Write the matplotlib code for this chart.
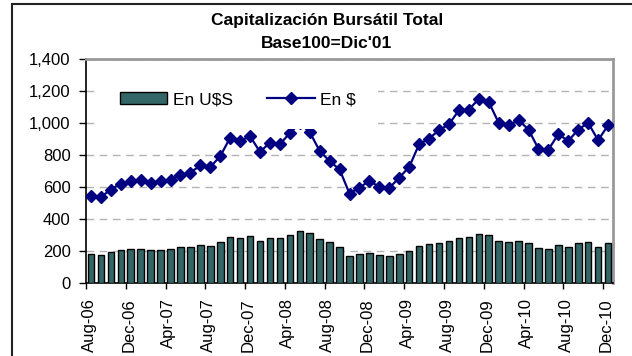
import numpy as np
import matplotlib
matplotlib.use("Agg")
import matplotlib.pyplot as plt
from matplotlib.patches import Rectangle
from matplotlib.ticker import FixedLocator, FuncFormatter

plt.rcParams['font.family'] = ['Liberation Sans', 'DejaVu Sans']

# monthly series, Aug-06 .. Dec-10
meses = ['Aug-06', 'Dec-06', 'Apr-07', 'Aug-07', 'Dec-07', 'Apr-08', 'Aug-08',
         'Dec-08', 'Apr-09', 'Aug-09', 'Dec-09', 'Apr-10', 'Aug-10', 'Dec-10']

en_usd = [180, 178, 194, 205, 211, 211, 207, 209, 213, 224, 228, 236, 232, 255,
          291, 284, 295, 263, 282, 280, 299, 324, 316, 276, 257, 226, 167, 180,
          190, 178, 167, 180, 199, 234, 245, 253, 261, 284, 286, 307, 303, 266,
          257, 263, 251, 217, 213, 240, 228, 249, 255, 228, 253]

en_pesos = [545, 539, 585, 623, 637, 644, 627, 637, 648, 675, 692, 736, 727, 794,
            911, 890, 919, 821, 880, 869, 940, 1000, 945, 827, 763, 711, 560, 598,
            639, 602, 595, 660, 727, 869, 905, 957, 994, 1082, 1086, 1153, 1134,
            1003, 988, 1020, 961, 840, 836, 932, 890, 961, 1003, 894, 988]

x = np.arange(len(en_usd))

fig = plt.figure(figsize=(6.32, 3.56), dpi=100)
ax = fig.add_axes([0.1361, 0.2051, 0.8339, 0.6278])

barras = ax.bar(x, en_usd, width=0.66, color='#336666', edgecolor='black',
                linewidth=1.0, zorder=3, label='En U$S')
linea, = ax.plot(x, en_pesos, color='#000080', lw=1.6, marker='D', ms=5.8,
                 mec='#000080', mew=1, zorder=4, label='En $')

ax.set_xlim(-0.5, len(x) - 0.5)
ax.set_ylim(0, 1400)
ax.set_yticks(range(0, 1401, 200))
ax.yaxis.set_major_formatter(FuncFormatter(lambda v, p: f'{int(v):,}'))
ax.grid(axis='y', color='#b4b4b4', lw=1.0, ls=(0, (5.5, 4)), zorder=0)

# tick marks between groups of four months, labels on the month itself
ax.xaxis.set_major_locator(FixedLocator(np.arange(-0.5, len(x) - 1, 4)))
ax.xaxis.set_major_formatter(FuncFormatter(lambda v, p: ''))
ax.xaxis.set_minor_locator(FixedLocator(np.arange(0, len(x), 4) - 0.2))
ax.set_xticklabels(meses, minor=True, rotation=90, fontsize=12)
ax.tick_params(axis='x', which='minor', length=0, pad=11)
ax.tick_params(axis='x', which='major', length=4, width=1, direction='out')
ax.tick_params(axis='y', length=5, width=1, direction='out', pad=6, labelsize=12)

for s in ['left', 'bottom']:
    ax.spines[s].set_color('black')
    ax.spines[s].set_linewidth(1.2)
for s in ['top', 'right']:
    ax.spines[s].set_color('#999999')
    ax.spines[s].set_linewidth(2)

leg = ax.legend([barras, linea], ['En U$S', 'En $'],
                loc='upper left', bbox_to_anchor=(0.0228, 0.952),
                borderaxespad=0, ncol=2, fontsize=12.5, frameon=True,
                fancybox=False, framealpha=1, facecolor='white',
                edgecolor='none', borderpad=1.25, handlelength=2.75,
                handletextpad=0.3, columnspacing=2.0)
leg.set_zorder(5)

fig.text(0.517, 0.9419, 'Capitalización Bursátil Total', ha='center',
         va='center', fontsize=12.5, fontweight='bold')
fig.text(0.517, 0.8792, "Base100=Dic'01", ha='center', va='center',
         fontsize=12.5, fontweight='bold')

# chart border
fig.patches.append(Rectangle((12 / 632, -0.05), 1.0, 1 - 4 / 356 + 0.05,
                             transform=fig.transFigure, fill=False,
                             edgecolor='#222222', lw=1.5, clip_on=False))

fig.savefig('out.png', dpi=100, facecolor='white')
